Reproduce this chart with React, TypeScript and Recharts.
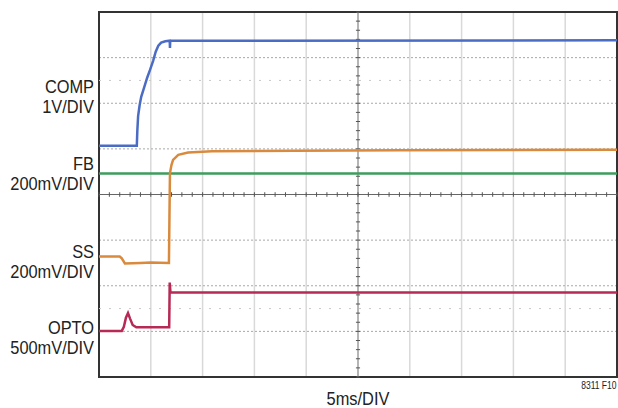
import React from "react";
import {
  LineChart,
  Line,
  XAxis,
  YAxis,
  CartesianGrid,
  ReferenceLine,
  ReferenceArea,
} from "recharts";

// time in divisions (0..10), level in divisions (0..8) from bottom
const COMP_T = [0, 0.73, 0.74, 0.755, 0.785, 0.815, 0.875, 0.93, 0.985, 1.045, 1.095, 1.145, 1.2, 1.28, 1.365, 1.37, 1.375, 1.4, 10];
const COMP_V = [5.07, 5.07, 5.4, 5.72, 5.96, 6.14, 6.36, 6.56, 6.73, 6.93, 7.13, 7.26, 7.33, 7.36, 7.37, 7.21, 7.37, 7.37, 7.38];

const SS_T = [0, 0.4, 0.44, 0.5, 0.8, 1.0, 1.35, 1.36, 1.37, 1.4, 1.43, 1.53, 1.72, 2.18, 3.78, 5.81, 10];
const SS_V = [2.64, 2.64, 2.6, 2.49, 2.5, 2.51, 2.5, 3.5, 4.47, 4.65, 4.76, 4.87, 4.92, 4.95, 4.96, 4.97, 4.98];

const FB_T = [0, 10];
const FB_V = [4.46, 4.46];

const OPTO_T = [0, 0.44, 0.48, 0.52, 0.56, 0.6, 0.65, 0.72, 1.355, 1.365, 1.38, 10];
const OPTO_V = [1.01, 1.01, 1.1, 1.3, 1.4, 1.28, 1.14, 1.09, 1.09, 2.07, 1.85, 1.85];

const X_TICKS = [0, 1, 2, 3, 4, 5, 6, 7, 8, 9, 10];
const Y_TICKS = [0, 1, 2, 3, 4, 5, 6, 7, 8];
const MARKERS = [6.5, 1.5];

const LABELS = [
  { name: "COMP", scale: "1V/DIV", y: 77 },
  { name: "FB", scale: "200mV/DIV", y: 153.5 },
  { name: "SS", scale: "200mV/DIV", y: 242 },
  { name: "OPTO", scale: "500mV/DIV", y: 317.5 },
];

const toRows = (t: number[], v: number[]) => t.map((x, i) => ({ t: x, v: v[i] }));

const hTicks = Array.from({ length: 51 }, (_, i) => i * 0.2);
const vTicks = Array.from({ length: 41 }, (_, i) => i * 0.2);

const font = "'Liberation Sans', Arial, sans-serif";

export default function App() {
  return (
    <div style={{ position: "absolute", left: 0, top: 0, width: 618, height: 408, background: "#fff", fontFamily: font }}>
      <LineChart width={618} height={408} margin={{ top: 12, right: 1, bottom: 31, left: 99 }}>
        <XAxis type="number" dataKey="t" domain={[0, 10]} ticks={X_TICKS} hide />
        <YAxis type="number" dataKey="v" domain={[0, 8]} ticks={Y_TICKS} hide />
        <CartesianGrid horizontal={false} stroke="#d9d9d9" strokeWidth={1.5} />
        <CartesianGrid vertical={false} stroke="#a8a8a8" strokeDasharray="2 2" />
        {MARKERS.map((m) => (
          <ReferenceLine key={m} y={m} stroke="#c8c8c8" strokeDasharray="2 8" />
        ))}
        <ReferenceLine y={4} stroke="#666" strokeWidth={1.2} />
        <ReferenceLine x={5} stroke="#888" strokeWidth={1} />
        {hTicks.map((x) => (
          <ReferenceLine key={"h" + x} segment={[{ x, y: 3.95 }, { x, y: 4.05 }]} stroke="#555" />
        ))}
        {vTicks.map((y) => (
          <ReferenceLine key={"v" + y} segment={[{ x: 4.96, y }, { x: 5.04, y }]} stroke="#555" />
        ))}
        <ReferenceArea x1={0} x2={10} y1={0} y2={8} fill="none" stroke="#333" strokeWidth={2} />
        <Line data={toRows(FB_T, FB_V)} dataKey="v" type="linear" stroke="#3d9d5b" strokeWidth={2.5} dot={false} isAnimationActive={false} />
        <Line data={toRows(SS_T, SS_V)} dataKey="v" type="linear" stroke="#d98a3d" strokeWidth={2.5} dot={false} isAnimationActive={false} />
        <Line data={toRows(COMP_T, COMP_V)} dataKey="v" type="linear" stroke="#4b6cc4" strokeWidth={2.5} dot={false} isAnimationActive={false} />
        <Line data={toRows(OPTO_T, OPTO_V)} dataKey="v" type="linear" stroke="#b62a55" strokeWidth={2.5} dot={false} isAnimationActive={false} />
      </LineChart>
      {LABELS.map((l) => (
        <div
          key={l.name}
          style={{
            position: "absolute",
            right: 618 - 94,
            top: l.y,
            textAlign: "right",
            fontSize: 18,
            lineHeight: "20px",
            color: "#222",
            whiteSpace: "nowrap",
            transform: "scaleX(0.91)",
            transformOrigin: "right top",
          }}
        >
          {l.name}
          <br />
          {l.scale}
        </div>
      ))}
      <div
        style={{
          position: "absolute",
          left: 358,
          top: 389,
          fontSize: 18,
          lineHeight: "20px",
          color: "#222",
          whiteSpace: "nowrap",
          transform: "translateX(-50%) scaleX(0.91)",
        }}
      >
        5ms/DIV
      </div>
      <div
        style={{
          position: "absolute",
          right: 1,
          top: 380,
          fontSize: 10,
          lineHeight: "11px",
          color: "#222",
          whiteSpace: "nowrap",
          transform: "scaleX(0.85)",
          transformOrigin: "right top",
        }}
      >
        8311 F10
      </div>
    </div>
  );
}
